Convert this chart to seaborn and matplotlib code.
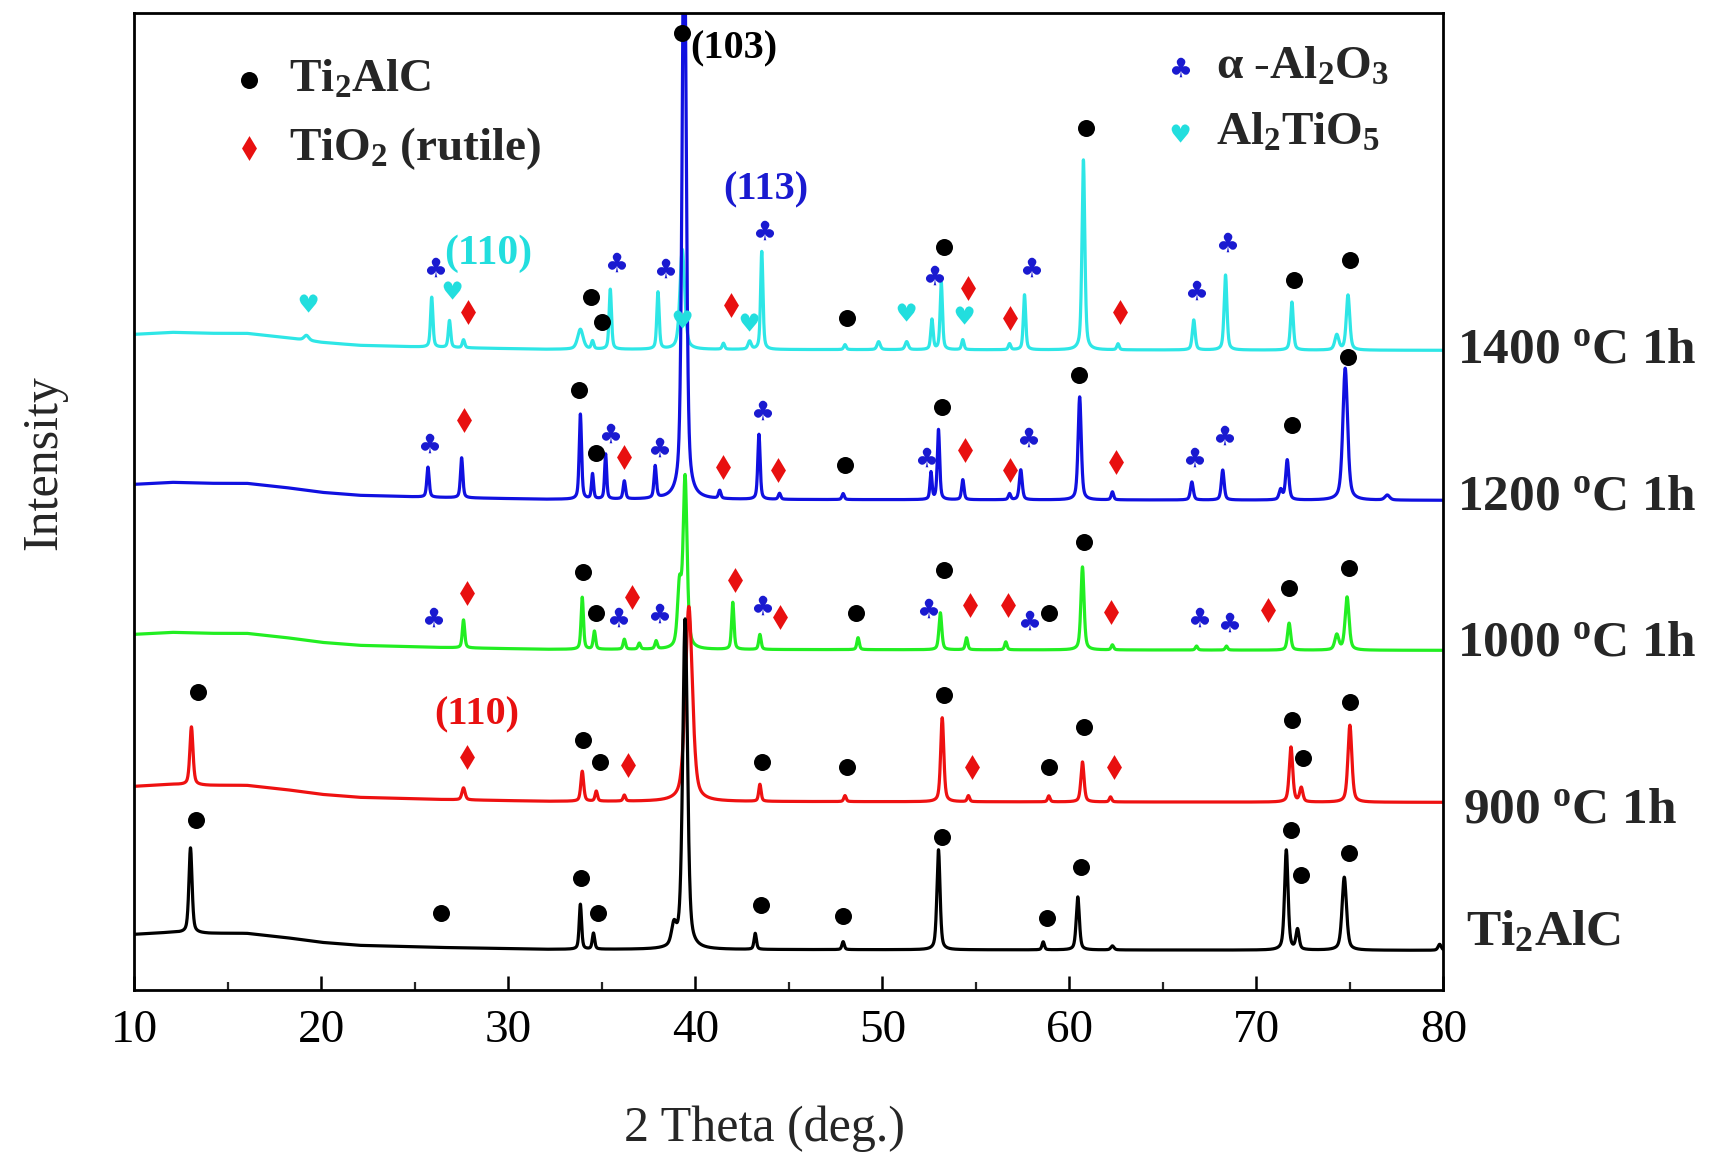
import numpy as np
import pandas as pd
import matplotlib
matplotlib.use("Agg")
import matplotlib.pyplot as plt
import seaborn as sns
from matplotlib.ticker import MultipleLocator
from matplotlib.transforms import blended_transform_factory
from matplotlib.textpath import TextPath
from matplotlib.font_manager import FontProperties
from matplotlib.path import Path

# ---------------- data ----------------
patterns = ["1400", "1200", "1000", "900", "Ti2AlC"]
baselines = {"Ti2AlC": 40, "900": 188, "1000": 340, "1200": 490, "1400": 640}
bg_x = [10, 12, 14, 16, 18, 20, 22, 26, 32, 80]
bg_off = [16, 18, 17, 17, 13, 8, 5, 3, 1, 0]

ti2alc_pos = [13.0, 33.85, 34.55, 38.85, 39.45, 43.2, 47.9, 53.0, 58.6, 60.45, 62.3, 71.6, 72.2, 74.7, 79.8]
ti2alc_h = [85, 45, 16, 20, 330, 16, 8, 100, 8, 53, 4, 100, 20, 73, 6]
ti2alc_w = [0.2, 0.15, 0.15, 0.3, 0.3, 0.15, 0.15, 0.2, 0.15, 0.2, 0.2, 0.22, 0.2, 0.28, 0.2]

c900_pos = [13.05, 27.6, 33.95, 34.7, 36.2, 39.65, 43.45, 48.0, 53.2, 54.6, 58.9, 60.7, 62.2, 71.85, 72.4, 75.0]
c900_h = [58, 12, 30, 10, 6, 195, 17, 6, 84, 6, 6, 40, 5, 55, 14, 77]
c900_w = [0.2, 0.2, 0.18, 0.15, 0.15, 0.45, 0.15, 0.15, 0.2, 0.15, 0.15, 0.2, 0.15, 0.22, 0.2, 0.25]

c1000_pos = [27.6, 33.95, 34.6, 36.2, 37.0, 37.9, 39.15, 39.45, 42.0, 43.45, 48.7, 53.1, 54.5, 56.6, 60.7, 62.3, 66.8, 68.4, 71.75, 74.3, 74.85]
c1000_h = [28, 52, 18, 10, 6, 8, 60, 170, 47, 15, 12, 37, 12, 8, 83, 5, 4, 4, 27, 15, 53]
c1000_w = [0.15, 0.15, 0.15, 0.15, 0.15, 0.15, 0.25, 0.25, 0.15, 0.15, 0.15, 0.18, 0.15, 0.15, 0.2, 0.15, 0.15, 0.15, 0.2, 0.25, 0.25]

c1200_pos = [25.7, 27.5, 33.85, 34.5, 35.2, 36.2, 37.85, 39.4, 41.3, 43.4, 44.5, 47.9, 52.6, 53.0, 54.3, 56.8, 57.4, 60.55, 62.3, 66.55, 68.2, 71.3, 71.65, 74.75, 77.0]
c1200_h = [30, 40, 85, 25, 45, 18, 32, 620, 8, 65, 6, 6, 27, 70, 20, 6, 30, 103, 8, 18, 30, 10, 40, 132, 5]
c1200_w = [0.15, 0.15, 0.15, 0.13, 0.13, 0.15, 0.15, 0.25, 0.15, 0.15, 0.15, 0.15, 0.13, 0.15, 0.15, 0.15, 0.18, 0.2, 0.15, 0.18, 0.18, 0.2, 0.2, 0.3, 0.3]

c1400_pos = [19.2, 25.9, 26.85, 27.6, 33.85, 34.5, 35.45, 38.0, 39.3, 41.5, 42.9, 43.55, 48.0, 49.8, 51.3, 52.65, 53.15, 54.3, 56.8, 57.6, 60.75, 62.6, 66.65, 68.35, 71.9, 74.3, 74.9]
c1400_h = [5, 50, 27, 8, 20, 8, 60, 57, 100, 6, 8, 98, 5, 8, 8, 30, 67, 10, 6, 55, 190, 6, 30, 75, 48, 15, 55]
c1400_w = [0.3, 0.15, 0.15, 0.15, 0.35, 0.15, 0.15, 0.15, 0.3, 0.15, 0.2, 0.15, 0.15, 0.2, 0.2, 0.15, 0.15, 0.15, 0.15, 0.15, 0.18, 0.15, 0.18, 0.18, 0.18, 0.25, 0.22]

colors = {"1400": "#2ee6e6", "1200": "#1010e0", "1000": "#22ee22", "900": "#ee1111", "Ti2AlC": "#000000"}

# phase markers (2theta, height)
ti2alc_dot_x = [13.3, 26.4, 33.9, 34.8, 43.5, 47.9, 53.2, 58.8, 60.6, 71.85, 72.4, 74.95]
ti2alc_dot_y = [170, 77, 112, 77, 85, 74, 153, 72, 123, 160, 115, 137]

c900_dot_x = [13.4, 34.0, 34.9, 43.55, 48.1, 53.3, 58.9, 60.8, 71.9, 72.5, 75.0]
c900_dot_y = [298, 250, 228, 228, 223, 295, 223, 263, 270, 232, 288]
c900_dia_x = [27.8, 36.4, 54.8, 62.4]
c900_dia_y = [233, 225, 223, 223]

c1000_dot_x = [34.0, 34.7, 48.6, 53.3, 58.9, 60.8, 71.75, 74.95]
c1000_dot_y = [418, 377, 377, 420, 377, 448, 402, 422]
c1000_dia_x = [27.8, 36.6, 42.1, 44.5, 54.7, 56.7, 62.2, 70.6]
c1000_dia_y = [397, 393, 410, 373, 385, 385, 378, 380]
c1000_club_x = [25.9, 35.8, 38.0, 43.5, 52.4, 57.8, 66.9, 68.5]
c1000_club_y = [373, 373, 377, 385, 382, 370, 373, 368]

c1200_dot_x = [33.8, 34.7, 48.0, 53.2, 60.5, 71.9, 74.9, 39.3]
c1200_dot_y = [600, 537, 525, 583, 615, 565, 633, 957]
c1200_dia_x = [27.6, 36.2, 41.5, 44.4, 54.4, 56.8, 62.5]
c1200_dia_y = [570, 533, 523, 520, 540, 520, 528]
c1200_club_x = [25.7, 35.4, 38.0, 43.5, 52.3, 57.75, 66.6, 68.2]
c1200_club_y = [547, 557, 543, 580, 533, 553, 533, 555]

c1400_dot_x = [34.4, 35.0, 48.1, 53.3, 60.9, 72.0, 75.0]
c1400_dot_y = [693, 668, 672, 743, 862, 710, 730]
c1400_dia_x = [27.85, 41.9, 54.6, 56.8, 62.7]
c1400_dia_y = [678, 685, 702, 672, 678]
c1400_club_x = [26.0, 35.7, 38.3, 43.6, 52.7, 57.9, 66.7, 68.4]
c1400_club_y = [723, 728, 722, 760, 715, 723, 700, 748]
c1400_heart_x = [19.25, 26.95, 39.25, 42.8, 51.2, 54.3]
c1400_heart_y = [687, 700, 671, 668, 678, 675]

row_label_text = [r"$\mathbf{1400\ ^{o}C\ 1h}$", r"$\mathbf{1200\ ^{o}C\ 1h}$",
                  r"$\mathbf{1000\ ^{o}C\ 1h}$", r"$\mathbf{900\ ^{o}C\ 1h}$",
                  r"$\mathbf{Ti_{2}AlC}$"]
row_label_y = [640, 493, 347, 180, 57]
row_label_x = [1.0107, 1.0107, 1.0107, 1.0153, 1.0176]

# ---------------- build profiles ----------------
two_theta = np.round(np.arange(10.0, 80.0001, 0.01), 3)

def profile(pos, h, w):
    y = np.zeros_like(two_theta)
    for p, a, fw in zip(pos, h, w):
        d = (two_theta - p) / (fw / 2.0)
        y += a * (0.5 / (1 + d ** 2) + 0.5 * np.exp(-np.log(2) * d ** 2))
    return y

peaks = {"Ti2AlC": (ti2alc_pos, ti2alc_h, ti2alc_w),
         "900": (c900_pos, c900_h, c900_w),
         "1000": (c1000_pos, c1000_h, c1000_w),
         "1200": (c1200_pos, c1200_h, c1200_w),
         "1400": (c1400_pos, c1400_h, c1400_w)}

frames = []
bg = np.interp(two_theta, bg_x, bg_off)
for name in patterns:
    inten = baselines[name] + bg + profile(*peaks[name])
    frames.append(pd.DataFrame({"two_theta": two_theta, "intensity": inten, "sample": name}))
df = pd.concat(frames, ignore_index=True)

# ---------------- style ----------------
sns.set_theme(style="white")
plt.rcParams.update({
    "font.family": ["Liberation Serif", "DejaVu Serif"],
    "mathtext.fontset": "custom",
    "mathtext.rm": "Liberation Serif",
    "mathtext.bf": "Liberation Serif:bold",
    "mathtext.it": "Liberation Serif:italic",
})

def glyph_marker(ch):
    tp = TextPath((0, 0), ch, prop=FontProperties(family="DejaVu Sans"), size=10)
    v = tp.vertices.copy()
    ext_min, ext_max = v.min(axis=0), v.max(axis=0)
    v -= (ext_min + ext_max) / 2.0
    return Path(v, tp.codes)

club = glyph_marker("\u2663")
heart = glyph_marker("\u2665")

fig = plt.figure(figsize=(17.12, 11.56), dpi=100)
ax = fig.add_axes([0.0785, 0.1433, 0.7646, 0.8452])

sns.lineplot(data=df, x="two_theta", y="intensity", hue="sample", hue_order=patterns,
             palette=colors, estimator=None, sort=False, linewidth=2.3, legend=False, ax=ax)

DOT = dict(marker="o", color="black", s=150, linewidth=0, zorder=5)
DIA = dict(marker="d", color="#e81010", s=160, linewidth=0, zorder=5)
CLUB = dict(marker=club, color="#1a1ad0", s=230, linewidth=0, zorder=5)
HEART = dict(marker=heart, color="#22dede", s=210, linewidth=0, zorder=5)

for xs, ys in [(ti2alc_dot_x, ti2alc_dot_y), (c900_dot_x, c900_dot_y), (c1000_dot_x, c1000_dot_y),
               (c1200_dot_x, c1200_dot_y), (c1400_dot_x, c1400_dot_y)]:
    sns.scatterplot(x=xs, y=ys, ax=ax, legend=False, **DOT)
for xs, ys in [(c900_dia_x, c900_dia_y), (c1000_dia_x, c1000_dia_y), (c1200_dia_x, c1200_dia_y),
               (c1400_dia_x, c1400_dia_y)]:
    sns.scatterplot(x=xs, y=ys, ax=ax, legend=False, **DIA)
for xs, ys in [(c1000_club_x, c1000_club_y), (c1200_club_x, c1200_club_y), (c1400_club_x, c1400_club_y)]:
    sns.scatterplot(x=xs, y=ys, ax=ax, legend=False, **CLUB)
sns.scatterplot(x=c1400_heart_x, y=c1400_heart_y, ax=ax, legend=False, **HEART)

# reflection labels
ax.text(39.75, 941, "(103)", fontsize=29, fontweight="bold", color="black", ha="left", va="center")
ax.text(43.75, 800, "(113)", fontsize=29, fontweight="bold", color="#1a1ad0", ha="center", va="center")
ax.text(28.9, 737, "(110)", fontsize=30, fontweight="bold", color="#22dede", ha="center", va="center")
ax.text(28.3, 275, "(110)", fontsize=29, fontweight="bold", color="#e81010", ha="center", va="center")

# phase key
ax.scatter([0.0879], [0.9314], transform=ax.transAxes, **DOT)
ax.scatter([0.0879], [0.862], transform=ax.transAxes, **DIA)
ax.scatter([0.798], [0.945], transform=ax.transAxes, **CLUB)
ax.scatter([0.798], [0.877], transform=ax.transAxes, **HEART)
ax.text(0.118, 0.9314, r"$\mathbf{Ti_{2}AlC}$", transform=ax.transAxes, fontsize=34, va="center", ha="left")
ax.text(0.118, 0.862, r"$\mathbf{TiO_{2}\ (rutile)}$", transform=ax.transAxes, fontsize=34, va="center", ha="left")
ax.text(0.826, 0.945, r"$\mathbf{\alpha\ \text{-}Al_{2}O_{3}}$", transform=ax.transAxes, fontsize=34, va="center", ha="left")
ax.text(0.826, 0.877, r"$\mathbf{Al_{2}TiO_{5}}$", transform=ax.transAxes, fontsize=34, va="center", ha="left")

# row labels to the right
tr = blended_transform_factory(ax.transAxes, ax.transData)
for lx, ly, lt in zip(row_label_x, row_label_y, row_label_text):
    ax.text(lx, ly, lt, transform=tr, fontsize=37, ha="left", va="center", clip_on=False)

ax.set_xlim(10, 80)
ax.set_ylim(0, 977)
ax.xaxis.set_major_locator(MultipleLocator(10))
ax.xaxis.set_minor_locator(MultipleLocator(5))
ax.tick_params(axis="x", which="major", direction="in", length=10, width=1.8, pad=14,
               labelsize=34, bottom=True, top=False, colors="black")
ax.tick_params(axis="x", which="minor", direction="in", length=6, width=1.6, bottom=True, top=False)
ax.tick_params(axis="y", left=False, labelleft=False)
for s in ax.spines.values():
    s.set_color("black")
    s.set_linewidth(2.0)

ax.set_xlabel("2 Theta (deg.)", fontsize=36)
ax.set_ylabel("Intensity", fontsize=36)
ax.xaxis.set_label_coords(0.481, -0.142)
ax.xaxis.label.set_va("center")
ax.yaxis.set_label_coords(-0.0688, 0.54)
ax.yaxis.label.set_va("center")

fig.savefig("out.png", dpi=100)
